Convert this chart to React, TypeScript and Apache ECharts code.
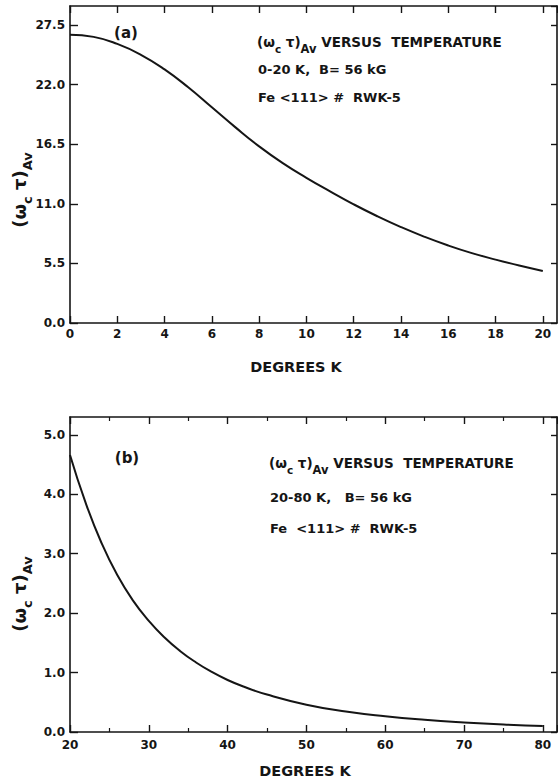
import React, { useEffect, useRef } from "react";
import * as echarts from "echarts";

// Panel (a): 0-20 K
const topTemps = [0, 1, 2, 3, 4, 5, 6, 7, 8, 9, 10, 11, 12, 13, 14, 15, 16, 17, 18, 19, 20];
const topValues = [26.6, 26.4, 25.75, 24.75, 23.4, 21.75, 19.9, 18.05, 16.3, 14.75, 13.4, 12.15, 10.95, 9.85, 8.85, 7.95, 7.15, 6.45, 5.85, 5.3, 4.8];

// Panel (b): 20-80 K
const bottomTemps = [20, 22, 24, 26, 28, 30, 32, 34, 36, 38, 40, 42, 45, 50, 55, 60, 65, 70, 75, 80];
const bottomValues = [4.66, 3.85, 3.18, 2.64, 2.21, 1.87, 1.59, 1.36, 1.17, 1.01, 0.875, 0.765, 0.63, 0.46, 0.345, 0.265, 0.205, 0.16, 0.125, 0.1];

const topXTick = { min: 0, max: 20.6, interval: 2 };
const topYTick = { min: 0, max: 29.25, interval: 5.5 };
const botXTick = { min: 20, max: 81.8, interval: 10 };
const botYTick = { min: 0, max: 5.3, interval: 1 };

const titleA = ["(\u03c9", "c", " \u03c4)", "Av", " VERSUS  TEMPERATURE"];
const infoA = ["0-20 K,  B= 56 kG", "Fe <111> #  RWK-5"];
const infoB = ["20-80 K,   B= 56 kG", "Fe  <111> #  RWK-5"];
const xName = "DEGREES K";

const FONT = "'DejaVu Sans', 'Liberation Sans', sans-serif";
const INK = "#151515";

function axisBase(t: { min: number; max: number; interval: number }, tickLen: number) {
  return {
    type: "value",
    min: t.min,
    max: t.max,
    interval: t.interval,
    axisLine: { show: true, onZero: false, lineStyle: { color: INK, width: 1.6 } },
    axisTick: { show: true, inside: true, length: tickLen, lineStyle: { color: INK, width: 1.4 } },
    splitLine: { show: false },
  };
}

function richTitle(x: number, y: number, parts: string[], size: number) {
  return {
    type: "text",
    x,
    y,
    style: {
      text: `{n|${parts[0]}}{c|${parts[1]}}{n|${parts[2]}}{s|${parts[3]}}{n|${parts[4]}}`,
      align: "left",
      verticalAlign: "middle",
      fill: INK,
      rich: {
        n: { fontSize: size, fontFamily: FONT, fontWeight: "bold", lineHeight: 25, fill: INK },
        c: { fontSize: size - 3, fontFamily: FONT, fontWeight: "bold", lineHeight: 19, verticalAlign: "bottom", fill: INK },
        s: { fontSize: size - 2, fontFamily: FONT, fontWeight: "bold", lineHeight: 10, verticalAlign: "bottom", fill: INK },
      },
    },
  };
}

function yName(x: number, y: number) {
  return {
    type: "text",
    x,
    y,
    rotation: Math.PI / 2,
    style: {
      text: `{n|${titleA[0]}}{c|${titleA[1]}}{n|${titleA[2]}}{s|${titleA[3]}}`,
      align: "center",
      verticalAlign: "middle",
      fill: INK,
      rich: {
        n: { fontSize: 18, fontFamily: FONT, fontWeight: "bold", lineHeight: 30, fill: INK },
        c: { fontSize: 13, fontFamily: FONT, fontWeight: "bold", lineHeight: 23, verticalAlign: "bottom", fill: INK },
        s: { fontSize: 13, fontFamily: FONT, fontWeight: "bold", lineHeight: 13, verticalAlign: "bottom", fill: INK },
      },
    },
  };
}

function plain(x: number, y: number, text: string, size: number, align = "left") {
  return {
    type: "text",
    x,
    y,
    style: { text, fontSize: size, fontFamily: FONT, fontWeight: "bold", fill: INK, align, verticalAlign: "middle" },
  };
}

export default function App() {
  const ref = useRef<HTMLDivElement>(null);
  useEffect(() => {
    if (!ref.current) return;
    const chart = echarts.init(ref.current, null, { renderer: "svg" });
    const labelStyle = { color: INK, fontSize: 12, fontWeight: "bold", fontFamily: FONT };
    const option = {
      animation: false,
      backgroundColor: "#fff",
      grid: [
        { left: 70, top: 6, width: 487, height: 317 },
        { left: 70, top: 417, width: 487, height: 315 },
      ],
      xAxis: [
        {
          ...axisBase(topXTick, 7),
          gridIndex: 0,
          position: "bottom",
          axisLabel: { ...labelStyle, margin: 5, showMaxLabel: false, formatter: (v: number) => String(v) },
        },
        { ...axisBase(topXTick, 7), gridIndex: 0, position: "top", axisLabel: { show: false } },
        {
          ...axisBase(botXTick, 7),
          gridIndex: 1,
          position: "bottom",
          minorTick: { show: true, splitNumber: 2, length: 4, lineStyle: { color: INK, width: 1.2 } },
          axisLabel: { ...labelStyle, margin: 7, showMaxLabel: false, formatter: (v: number) => String(v) },
        },
        {
          ...axisBase(botXTick, 7),
          gridIndex: 1,
          position: "top",
          minorTick: { show: true, splitNumber: 2, length: 4, lineStyle: { color: INK, width: 1.2 } },
          axisLabel: { show: false },
        },
      ],
      yAxis: [
        {
          ...axisBase(topYTick, 8),
          gridIndex: 0,
          position: "left",
          axisLabel: { ...labelStyle, margin: 5, showMaxLabel: false, formatter: (v: number) => v.toFixed(1) },
        },
        { ...axisBase(topYTick, 6), gridIndex: 0, position: "right", axisLabel: { show: false } },
        {
          ...axisBase(botYTick, 8),
          gridIndex: 1,
          position: "left",
          axisLabel: { ...labelStyle, margin: 5, showMaxLabel: false, formatter: (v: number) => v.toFixed(1) },
        },
        { ...axisBase(botYTick, 6), gridIndex: 1, position: "right", axisLabel: { show: false } },
      ],
      series: [
        {
          type: "line",
          xAxisIndex: 0,
          yAxisIndex: 0,
          data: topTemps.map((t, i) => [t, topValues[i]]),
          smooth: 0.5,
          symbol: "none",
          lineStyle: { color: INK, width: 2 },
        },
        {
          type: "line",
          xAxisIndex: 2,
          yAxisIndex: 2,
          data: bottomTemps.map((t, i) => [t, bottomValues[i]]),
          smooth: 0.5,
          symbol: "none",
          lineStyle: { color: INK, width: 2 },
        },
      ],
      graphic: [
        plain(126, 33, "(a)", 15, "center"),
        richTitle(257, 42, titleA, 13.5),
        plain(258, 69, infoA[0], 13),
        plain(258, 97, infoA[1], 13),
        yName(19, 190),
        plain(296, 367, xName, 14.5, "center"),
        plain(127, 458, "(b)", 15, "center"),
        richTitle(269, 463, titleA, 13.5),
        plain(270, 497, infoB[0], 13),
        plain(270, 528, infoB[1], 13),
        yName(19, 594),
        plain(305, 771, xName, 14.5, "center"),
      ],
    };
    chart.setOption(option as any);
    return () => chart.dispose();
  }, []);
  return (
    <div
      ref={ref}
      style={{ position: "fixed", left: 0, top: 0, width: 558, height: 782, background: "#fff" }}
    />
  );
}
